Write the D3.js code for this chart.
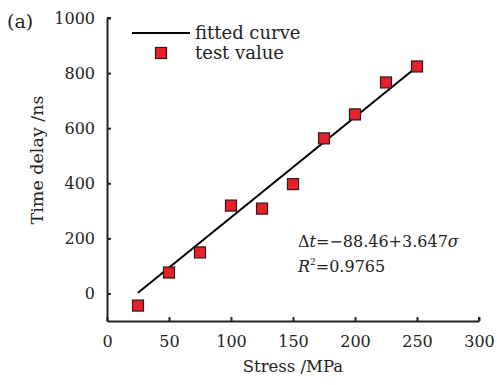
<!DOCTYPE html>
<html><head><meta charset="utf-8">
<script src="https://cdn.jsdelivr.net/npm/d3@7"></script>
<style>body{margin:0;background:#fff}svg{display:block}text{font-family:"DejaVu Serif","Liberation Serif",serif;fill:#222}</style>
</head><body><svg id="c" width="497" height="385"></svg>
<script>
const stress = [25, 50, 75, 100, 125, 150, 175, 200, 225, 250];
const delay = [-44, 76, 149, 319, 308, 397, 563, 650, 766, 824];
const fitIntercept = -88.46, fitSlope = 3.647;
const fitRange = [25, 250];
const xTicks = [0, 50, 100, 150, 200, 250, 300];
const yTicks = [0, 200, 400, 600, 800, 1000];

const svg = d3.select("#c");
const x = d3.scaleLinear().domain([0, 300]).range([107, 479]);
const y = d3.scaleLinear().domain([-100, 1000]).range([321, 18]);

const fs = 16;
const SERIF = '"DejaVu Serif","Liberation Serif",serif';
// axes
const xa = svg.append("g").attr("transform", `translate(0,${y(-100)})`)
  .call(d3.axisBottom(x).tickValues(xTicks).tickFormat(d3.format("d")).tickSize(-4).tickPadding(15).tickSizeOuter(0));
const ya = svg.append("g").attr("transform", `translate(${x(0)},0)`)
  .call(d3.axisLeft(y).tickValues(yTicks).tickFormat(d3.format("d")).tickSize(-4).tickPadding(12).tickSizeOuter(0));
[xa, ya].forEach(a => {
  a.attr("font-family", SERIF).attr("font-size", fs);
  a.select(".domain").attr("stroke", "#222").attr("stroke-width", 2);
  a.selectAll(".tick line").attr("stroke", "#222").attr("stroke-width", 2);
  a.selectAll(".tick text").style("fill", "#222");
});
// end caps
svg.append("line").attr("x1", x(0)).attr("x2", x(0)+4).attr("y1", y(1000)).attr("y2", y(1000)).attr("stroke","#222").attr("stroke-width",2);
svg.append("line").attr("x1", x(300)).attr("x2", x(300)).attr("y1", y(-100)).attr("y2", y(-100)-4).attr("stroke","#222").attr("stroke-width",2);

// fitted line
const line = d3.line().x(d => x(d)).y(d => y(fitIntercept + fitSlope * d));
svg.append("path").datum(fitRange).attr("d", line).attr("fill", "none").attr("stroke", "#000").attr("stroke-width", 2);

// points
const sz = 11;
svg.selectAll("rect.pt").data(stress).enter().append("rect").attr("class","pt")
  .attr("x", (d) => x(d) - sz/2).attr("y", (d, i) => y(delay[i]) - sz/2)
  .attr("width", sz).attr("height", sz).attr("fill", "#e8202a").attr("stroke", "#2a1a1a").attr("stroke-width", 1.2);

// legend
svg.append("line").attr("x1", 132).attr("x2", 190).attr("y1", 33).attr("y2", 33).attr("stroke","#000").attr("stroke-width",2);
svg.append("text").attr("x", 195).attr("y", 39).attr("font-size", 18).text("fitted curve");
svg.append("rect").attr("x", 161 - 5.5).attr("y", 53 - 5.5).attr("width", 11).attr("height", 11).attr("fill", "#e8202a").attr("stroke", "#2a1a1a").attr("stroke-width", 1.2);
svg.append("text").attr("x", 195).attr("y", 59).attr("font-size", 18).text("test value");

// equation
const eq = svg.append("text").attr("x", 298).attr("y", 247).attr("font-size", fs);
eq.append("tspan").text("Δ");
eq.append("tspan").attr("font-style","italic").text("t");
eq.append("tspan").text("=−88.46+3.647");
eq.append("tspan").attr("font-style","italic").text("σ");
const r2 = svg.append("text").attr("x", 298).attr("y", 272).attr("font-size", fs);
r2.append("tspan").attr("font-style","italic").text("R");
r2.append("tspan").attr("font-size", 9).attr("dy", -7).text("2");
r2.append("tspan").attr("dy", 7).text("=0.9765");

// labels
svg.append("text").attr("x", 293).attr("y", 372).attr("text-anchor","middle").attr("font-size", 16.5).text("Stress /MPa");
svg.append("text").attr("transform", "translate(43,160) rotate(-90)").attr("text-anchor","middle").attr("font-size", 17.5).text("Time delay /ns");
svg.append("text").attr("x", 7).attr("y", 28).attr("font-size", 19).text("(a)");
</script></body></html>
